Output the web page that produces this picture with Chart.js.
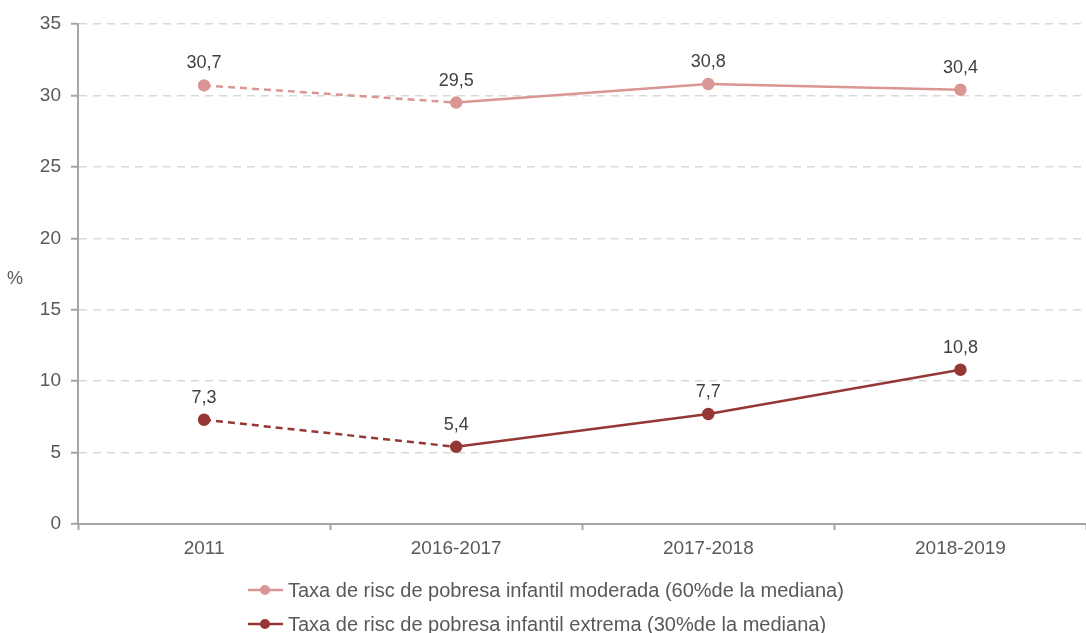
<!DOCTYPE html>
<html>
<head>
<meta charset="utf-8">
<script src="https://cdn.jsdelivr.net/npm/chart.js@4"></script>
<style>
  html, body { margin: 0; padding: 0; background: #fff; overflow: hidden; }
  #wrap { position: relative; width: 1094px; height: 560px; }
  .legend { position: absolute; left: 248px; font: 20px "Liberation Sans", Arial, sans-serif; color: #595959; }
  .legend .row { display: flex; align-items: center; height: 34px; white-space: nowrap; }
  .legend canvas { margin-right: 5px; }
</style>
</head>
<body>
<div id="wrap"><canvas id="chart" width="1094" height="560"></canvas></div>
<div class="legend" id="legend" style="top:573px"></div>
<script>
  // values
  var categories = ["2011", "2016-2017", "2017-2018", "2018-2019"];
  var moderada = [30.7, 29.5, 30.8, 30.4];
  var extrema = [7.3, 5.4, 7.7, 10.8];
  var seriesNames = [
    "Taxa de risc de pobresa infantil moderada (60%de la mediana)",
    "Taxa de risc de pobresa infantil extrema (30%de la mediana)"
  ];
  var yTicks = [0, 5, 10, 15, 20, 25, 30, 35];

  var COLORS = ["#d99694", "#953735"];
  var FONT = '"Liberation Sans", Arial, sans-serif';
  var TEXT = "#595959";

  Chart.defaults.font.family = FONT;
  Chart.defaults.font.size = 19;
  Chart.defaults.color = TEXT;

  function fmt(v) { return String(v).replace(".", ","); }

  // first segment (2011 -> 2016-2017) is dashed
  var segStyle = { borderDash: function (c) { return c.p0DataIndex === 0 ? [7, 5] : undefined; } };

  var valueLabels = {
    id: "valueLabels",
    afterDatasetsDraw: function (chart) {
      var ctx = chart.ctx;
      ctx.save();
      ctx.font = "18px " + FONT;
      ctx.fillStyle = "#404040";
      ctx.textAlign = "center";
      ctx.textBaseline = "middle";
      chart.data.datasets.forEach(function (ds, i) {
        chart.getDatasetMeta(i).data.forEach(function (pt, j) {
          ctx.fillText(fmt(ds.data[j]), pt.x, pt.y - 22);
        });
      });
      ctx.restore();
    }
  };

  var unitLabel = {
    id: "unitLabel",
    afterDraw: function (chart) {
      var ctx = chart.ctx;
      ctx.save();
      ctx.font = "18px " + FONT;
      ctx.fillStyle = TEXT;
      ctx.textAlign = "center";
      ctx.textBaseline = "middle";
      ctx.fillText("%", 15, 279);
      ctx.restore();
    }
  };

  new Chart(document.getElementById("chart"), {
    type: "line",
    data: {
      labels: categories,
      datasets: [
        { label: seriesNames[0], data: moderada, borderColor: COLORS[0], backgroundColor: COLORS[0],
          borderWidth: 2.5, pointRadius: 5, pointHoverRadius: 5, segment: segStyle },
        { label: seriesNames[1], data: extrema, borderColor: COLORS[1], backgroundColor: COLORS[1],
          borderWidth: 2.5, pointRadius: 5, pointHoverRadius: 5, segment: segStyle }
      ]
    },
    options: {
      responsive: false,
      animation: false,
      layout: { padding: { top: 24, right: 2, left: 0, bottom: 0 } },
      plugins: { legend: { display: false }, tooltip: { enabled: false } },
      scales: {
        x: {
          offset: true,
          grid: { offset: true, drawOnChartArea: false, drawTicks: true, tickLength: 6, tickColor: "#a6a6a6", tickWidth: 2 },
          border: { color: "#a6a6a6", width: 2 },
          ticks: { padding: 7, color: TEXT, maxRotation: 0 },
          afterFit: function (s) { s.height = 36; }
        },
        y: {
          min: 0, max: 35,
          afterBuildTicks: function (s) { s.ticks = yTicks.map(function (v) { return { value: v }; }); },
          grid: { color: "#d9d9d9", lineWidth: 1.5, tickLength: 7, tickColor: "#a6a6a6", tickWidth: 2 },
          border: { color: "#a6a6a6", width: 2, dash: [8, 6] },
          ticks: { padding: 10, color: TEXT },
          afterFit: function (s) { s.width = 78; }
        }
      }
    },
    plugins: [valueLabels, unitLabel]
  });

  // legend: line with a dot, then the series name
  var legend = document.getElementById("legend");
  seriesNames.forEach(function (name, i) {
    var row = document.createElement("div");
    row.className = "row";
    var c = document.createElement("canvas");
    c.width = 35; c.height = 14;
    var g = c.getContext("2d");
    g.strokeStyle = COLORS[i]; g.lineWidth = 2.5;
    g.beginPath(); g.moveTo(0, 7); g.lineTo(35, 7); g.stroke();
    g.fillStyle = COLORS[i];
    g.beginPath(); g.arc(17, 7, 5, 0, Math.PI * 2); g.fill();
    row.appendChild(c);
    var t = document.createElement("span");
    t.textContent = name;
    row.appendChild(t);
    legend.appendChild(row);
  });
</script>
</body>
</html>
